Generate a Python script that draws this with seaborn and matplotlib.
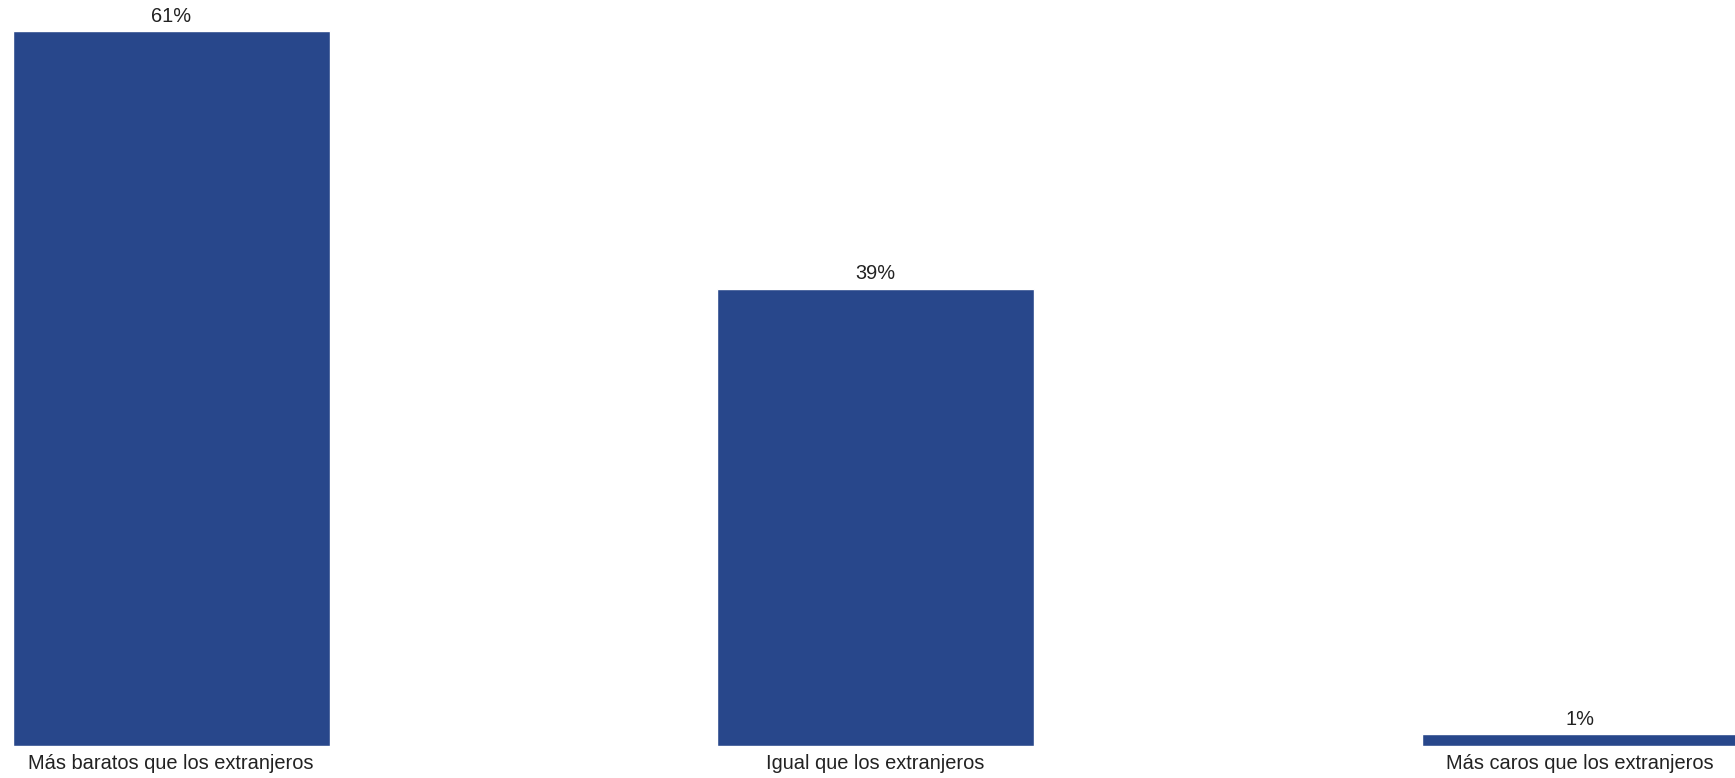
import matplotlib
matplotlib.use("Agg")
import matplotlib.pyplot as plt
import seaborn as sns
import pandas as pd

# data
categories = ["Más baratos que los extranjeros", "Igual que los extranjeros", "Más caros que los extranjeros"]
values = [61, 39, 1]

bar_color = "#28478b"
text_color = "#222222"

sns.set_theme(style="white")
plt.rcParams['font.family'] = ['Liberation Sans', 'DejaVu Sans']

df = pd.DataFrame({"categoria": categories, "pct": values})

fig = plt.figure(figsize=(17.35, 7.78), dpi=100)
ax = fig.add_axes([0, 32 / 778, 1, 746 / 778])

sns.barplot(data=df, x="categoria", y="pct", color=bar_color, width=0.45,
            saturation=1, ax=ax)

# value labels on top of bars
ax.bar_label(ax.containers[0], labels=[f"{v}%" for v in values],
             padding=4, fontsize=14.4, color=text_color)

ax.set_xlim(-0.243, 2.22)
ax.set_ylim(0, 63.65)
ax.set_xlabel("")
ax.set_ylabel("")
ax.set_yticks([])
ax.tick_params(axis="x", length=0, pad=6, labelsize=14.4, labelcolor=text_color)
sns.despine(ax=ax, left=True, bottom=True)

fig.savefig("out.png", dpi=100, facecolor="white")
